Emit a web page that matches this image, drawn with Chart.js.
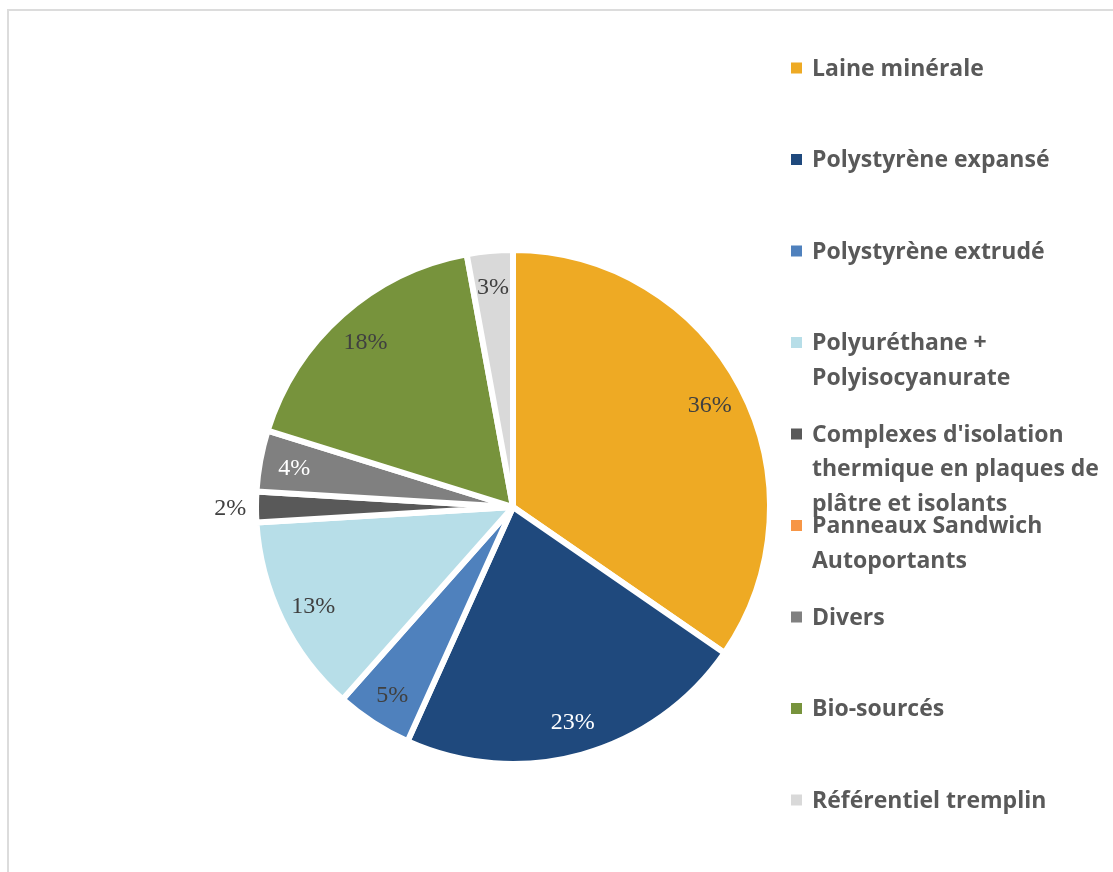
<!DOCTYPE html>
<html lang="fr">
<head>
<meta charset="utf-8">
<title>Isolants</title>
<script src="https://cdn.jsdelivr.net/npm/chart.js"></script>
<style>
    html, body { margin: 0; padding: 0; background: #fff; overflow: hidden; }
    .frame {
        position: absolute; left: 7px; top: 9px;
        width: 1200px; height: 1000px;
        border: 2px solid #dcdcdc;
    }
    #pieChart { position: absolute; left: 0; top: 0; }
</style>
</head>
<body>
<div class="frame"></div>
<canvas id="pieChart" width="1113" height="872"></canvas>
<script>
const categories = [
    'Laine minérale',
    'Polystyrène expansé',
    'Polystyrène extrudé',
    'Polyuréthane + Polyisocyanurate',
    "Complexes d'isolation thermique en plaques de plâtre et isolants",
    'Panneaux Sandwich Autoportants',
    'Divers',
    'Bio-sourcés',
    'Référentiel tremplin'
];
const shares = [36, 23, 5, 13, 2, 0, 4, 18, 3];
const sliceColors = ['#EEAA24', '#1F497D', '#4F81BD', '#B7DEE8', '#595959', '#F79646', '#808080', '#77933C', '#D9D9D9'];
const labelColors = ['#404040', '#ffffff', '#404040', '#404040', '#404040', '#404040', '#ffffff', '#404040', '#404040'];

// value labels, drawn inside the slice (small ones go outside)
const pieLabels = {
    id: 'pieLabels',
    afterDatasetsDraw(chart) {
        const ctx = chart.ctx;
        const meta = chart.getDatasetMeta(0);
        ctx.save();
        ctx.font = '24px "Liberation Serif"';
        ctx.textAlign = 'center';
        ctx.textBaseline = 'middle';
        meta.data.forEach((arc, i) => {
            const v = shares[i];
            if (!v) return;
            const mid = (arc.startAngle + arc.endAngle) / 2;
            const outside = v <= 2;
            const r = arc.outerRadius * (outside ? 1.1 : 0.865);
            ctx.fillStyle = outside ? '#404040' : labelColors[i];
            ctx.fillText(v + '%', arc.x + Math.cos(mid) * r, arc.y + 2 + Math.sin(mid) * r);
        });
        ctx.restore();
    }
};

// legend on the right, with wrapped entries like the original
const sideLegend = {
    id: 'sideLegend',
    afterDraw(chart) {
        const ctx = chart.ctx;
        const top = 68, step = 91.5, lineH = 34.5, maxW = 296;
        ctx.save();
        ctx.font = 'bold 23px "Open Sans"';
        ctx.textBaseline = 'middle';
        categories.forEach((name, i) => {
            const y = top + i * step;
            ctx.fillStyle = sliceColors[i];
            ctx.fillRect(791, y - 5.5, 11, 11);
            ctx.fillStyle = '#595959';
            const words = name.split(' ');
            const lines = [];
            let line = '';
            words.forEach(w => {
                const test = line ? line + ' ' + w : w;
                if (line && ctx.measureText(test).width > maxW) {
                    lines.push(line);
                    line = w;
                } else {
                    line = test;
                }
            });
            lines.push(line);
            lines.forEach((l, j) => ctx.fillText(l, 812, y + 1 + j * lineH));
        });
        ctx.restore();
    }
};

new Chart(document.getElementById('pieChart'), {
    type: 'pie',
    data: {
        labels: categories,
        datasets: [{
            data: shares,
            backgroundColor: sliceColors,
            borderColor: '#ffffff',
            borderWidth: 6,
            hoverBorderWidth: 6,
            hoverOffset: 0
        }]
    },
    options: {
        responsive: false,
        animation: false,
        events: [],
        radius: 257,
        layout: {
            padding: { left: 255, right: 342, top: 249, bottom: 107 }
        },
        plugins: {
            legend: { display: false },
            tooltip: { enabled: false }
        }
    },
    plugins: [pieLabels, sideLegend]
});
</script>
</body>
</html>
